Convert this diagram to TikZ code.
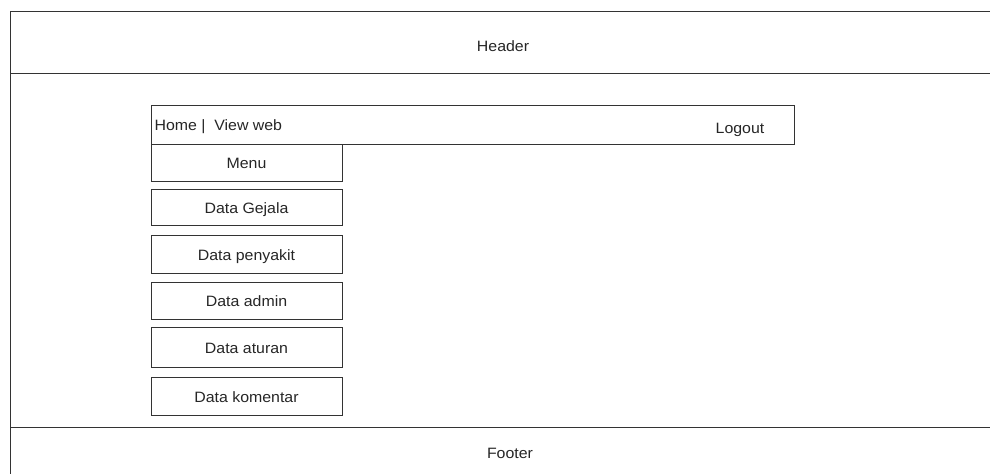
\documentclass[tikz,border=0pt]{standalone}
\usepackage{fontspec}
\setmainfont{Liberation Sans}[FakeStretch=1.06]
\begin{document}
\begin{tikzpicture}[x=1pt,y=-1pt,
  line/.style={draw=black!80, line width=0.8pt},
  box/.style={line, rectangle, inner sep=0pt},
  lbl/.style={font=\fontsize{15}{17}\selectfont, text=black!85, text height=12pt, text depth=0pt}]
\useasboundingbox (0,0) rectangle (990,474);
% page frame
\coordinate (tl) at (10,11);
\coordinate (tr) at (990,11);
\coordinate (bl) at (10,474);
\coordinate (hl) at (10,73);
\coordinate (hr) at (990,73);
\coordinate (fl) at (10,427);
\coordinate (fr) at (990,427);
\draw[line] (tr) -- (tl) -- (bl);
\draw[line] (hl) -- (hr);
\draw[line] (fl) -- (fr);
\node[lbl] (header) at (503,45) {Header};
\node[lbl] (footer) at (510,452) {Footer};
% navigation bar
\node[box, minimum width=643pt, minimum height=39pt] (nav) at (472.5,124.5) {};
\node[lbl, anchor=west] (home) at (151,124) {Home |\ \ View web};
\node[lbl] (logout) at (740,127) {Logout};
% menu column
\node[box, minimum width=191pt, minimum height=37pt] (menu) at (246.5,162.5) {};
\node[lbl] at (menu) {Menu};
\node[box, lbl, minimum width=191pt, minimum height=36pt] (gejala) at (246.5,207) {Data Gejala};
\node[box, lbl, minimum width=191pt, minimum height=38pt] (penyakit) at (246.5,254) {Data penyakit};
\node[box, lbl, minimum width=191pt, minimum height=37pt] (admin) at (246.5,300.5) {Data admin};
\node[box, lbl, minimum width=191pt, minimum height=40pt] (aturan) at (246.5,347) {Data aturan};
\node[box, lbl, minimum width=191pt, minimum height=38pt] (komentar) at (246.5,396) {Data komentar};
\end{tikzpicture}
\end{document}
